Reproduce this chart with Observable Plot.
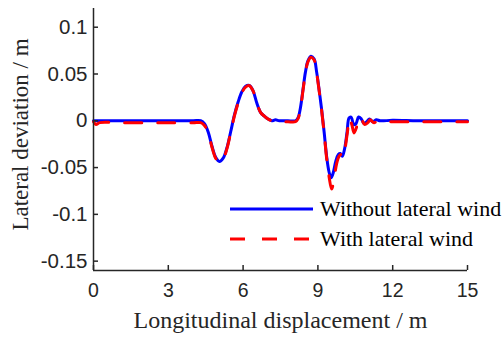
<!DOCTYPE html>
<html>
<head>
<meta charset="utf-8">
<script src="https://cdn.jsdelivr.net/npm/d3@7"></script>
<script src="https://cdn.jsdelivr.net/npm/@observablehq/plot@0.6"></script>
<style>
  html, body { margin: 0; padding: 0; background: #fff; }
  #wrap { position: relative; width: 503px; height: 337px; }
  #legend { position: absolute; left: 230px; top: 194px; font-family: "Liberation Serif", "Times New Roman", serif; font-size: 22px; color: #000; white-space: nowrap; }
  .row { display: flex; align-items: center; height: 30px; }
  .row svg { margin-right: 6px; }
</style>
</head>
<body>
<div id="wrap"><div id="legend"></div></div>
<script>
const seriesNames = ["Without lateral wind", "With lateral wind"];
const seriesColors = ["#0000ff", "#ff0000"];

const xWithout = [0, 1, 2, 3, 4, 4.3, 4.45, 4.6, 4.75, 4.9, 5.05, 5.2, 5.35, 5.5, 5.65, 5.8, 5.95, 6.1, 6.25, 6.4, 6.55, 6.7, 6.85, 7.0, 7.15, 7.3, 7.45, 7.6, 7.8, 8.1, 8.2, 8.3, 8.4, 8.5, 8.6, 8.72, 8.85, 8.95, 9.05, 9.15, 9.25, 9.35, 9.45, 9.53, 9.62, 9.72, 9.82, 9.9, 9.98, 10.07, 10.17, 10.25, 10.33, 10.44, 10.53, 10.63, 10.74, 10.85, 10.96, 11.07, 11.2, 11.35, 11.5, 12, 13, 14, 15];
const yWithout = [0, 0, 0, 0, 0, 0, -0.003, -0.012, -0.027, -0.039, -0.0435, -0.040, -0.029, -0.012, 0.006, 0.020, 0.031, 0.037, 0.0378, 0.032, 0.019, 0.009, 0.005, 0.002, 0.0, 0.001, 0.0, 0.0, 0, 0, 0.003, 0.014, 0.033, 0.052, 0.064, 0.069, 0.066, 0.052, 0.033, 0.012, -0.012, -0.038, -0.055, -0.061, -0.055, -0.043, -0.036, -0.035, -0.038, -0.030, -0.012, 0.003, 0.004, -0.004, -0.003, 0.004, 0.002, -0.003, -0.001, 0.002, -0.001, 0.001, 0, 0.0005, 0, 0, 0];

const xWith = [0, 0.1, 0.25, 1, 2, 3, 4, 4.3, 4.45, 4.6, 4.75, 4.9, 5.05, 5.2, 5.35, 5.5, 5.65, 5.8, 5.95, 6.1, 6.25, 6.4, 6.55, 6.7, 6.85, 7.0, 7.15, 7.3, 7.45, 7.6, 7.8, 8.1, 8.2, 8.3, 8.4, 8.5, 8.6, 8.72, 8.85, 8.95, 9.05, 9.15, 9.25, 9.35, 9.45, 9.55, 9.65, 9.75, 9.85, 9.92, 10.0, 10.08, 10.18, 10.27, 10.36, 10.45, 10.56, 10.68, 10.78, 10.88, 11.0, 11.1, 11.25, 11.4, 11.6, 12, 13, 14, 15];
const yWith = [-0.001, -0.004, -0.002, -0.002, -0.002, -0.002, -0.002, -0.002, -0.005, -0.013, -0.028, -0.040, -0.0445, -0.041, -0.030, -0.013, 0.005, 0.019, 0.030, 0.036, 0.0375, 0.032, 0.019, 0.009, 0.005, 0.002, 0.0, 0.0, -0.001, -0.001, -0.001, -0.001, 0.002, 0.013, 0.032, 0.051, 0.063, 0.068, 0.065, 0.051, 0.032, 0.011, -0.013, -0.040, -0.060, -0.073, -0.062, -0.046, -0.038, -0.036, -0.039, -0.031, -0.013, 0.003, -0.004, -0.013, -0.006, 0.004, 0.000, -0.004, -0.002, 0.001, -0.002, 0.000, -0.001, -0.001, -0.001, -0.001, -0.001];

const xTicks = [0, 3, 6, 9, 12, 15];
const yTicks = [-0.15, -0.1, -0.05, 0, 0.05, 0.1];
const xTitle = "Longitudinal displacement / m";
const yTitle = "Lateral deviation / m";

const dataWithout = xWithout.map((x, i) => ({x, y: yWithout[i]}));
const dataWith = xWith.map((x, i) => ({x, y: yWith[i]}));

const axisColor = "#262626";
const tickFont = "'Liberation Sans', Arial, sans-serif";
const serif = "'Liberation Serif', 'Times New Roman', serif";

const chart = Plot.plot({
  width: 503,
  height: 337,
  marginLeft: 93,
  marginRight: 36,
  marginTop: 8,
  marginBottom: 67,
  x: {domain: [0, 15]},
  y: {domain: [-0.16, 0.12]},
  style: {background: "#fff", overflow: "visible"},
  marks: [
    Plot.line(dataWithout, {x: "x", y: "y", stroke: seriesColors[0], strokeWidth: 3, curve: "catmull-rom"}),
    Plot.line(dataWith, {x: "x", y: "y", stroke: seriesColors[1], strokeWidth: 3, strokeDasharray: "17,16", curve: "catmull-rom"}),
    Plot.ruleY([-0.16], {stroke: axisColor, strokeWidth: 1.5}),
    Plot.ruleX([0], {stroke: axisColor, strokeWidth: 1.5}),
    Plot.axisX({ticks: xTicks, tickSize: -5, text: null, label: null, stroke: axisColor, strokeWidth: 1.5}),
    Plot.axisY({ticks: yTicks, tickSize: -5, text: null, label: null, stroke: axisColor, strokeWidth: 1.5}),
    Plot.axisX({ticks: xTicks, tickSize: 0, tickPadding: 13, label: null, tickFormat: d => String(d), fontSize: 19.5, fontFamily: tickFont, fill: axisColor}),
    Plot.axisY({ticks: yTicks, tickSize: 0, tickPadding: 6, label: null, tickFormat: d => String(d), fontSize: 20.5, fontFamily: tickFont, fill: axisColor}),
    Plot.text([xTitle], {frameAnchor: "bottom", dy: 50, lineAnchor: "middle", textAnchor: "middle", text: d => d, fontSize: 24, fontFamily: serif, fill: axisColor}),
    Plot.text([yTitle], {frameAnchor: "left", dx: -73, dy: -5, rotate: -90, lineAnchor: "middle", textAnchor: "middle", text: d => d, fontSize: 23, fontFamily: serif, fill: axisColor})
  ]
});

document.getElementById("wrap").prepend(chart);

const legend = document.getElementById("legend");
seriesNames.forEach((name, i) => {
  const row = document.createElement("div");
  row.className = "row";
  const dash = i === 1 ? ' stroke-dasharray="15,17"' : '';
  row.innerHTML = `<svg width="84" height="10"><line x1="0" x2="83" y1="5" y2="5" stroke="${seriesColors[i]}" stroke-width="3"${dash}/></svg><span>${name}</span>`;
  legend.appendChild(row);
});
</script>
</body>
</html>
